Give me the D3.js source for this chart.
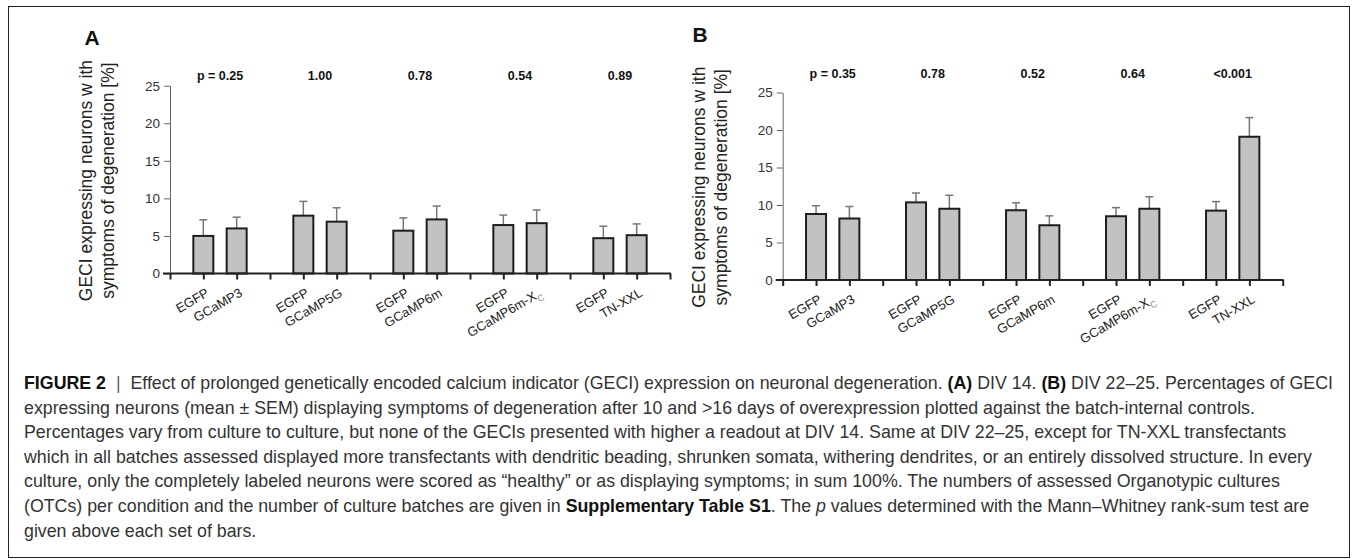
<!DOCTYPE html>
<html>
<head>
<meta charset="utf-8">
<script src="https://cdn.jsdelivr.net/npm/d3@7"></script>
<style>
  body { margin: 0; background: #fff; }
  svg { display: block; font-family: "Liberation Sans", Arial, Helvetica, sans-serif; }
</style>
</head>
<body>
<svg id="fig" width="1354" height="559"></svg>
<script>
// each pair = batch control (EGFP) + one GECI
const control = "EGFP";
const geci = ["GCaMP3", "GCaMP5G", "GCaMP6m", "GCaMP6m-X", "TN-XXL"];
const yTicks = [0, 5, 10, 15, 20, 25];

// A: DIV 14
const meanA_egfp = [5.0, 7.7, 5.7, 6.45, 4.7];
const semA_egfp = [2.15, 1.9, 1.7, 1.33, 1.6];
const meanA_geci = [6.0, 6.9, 7.2, 6.7, 5.1];
const semA_geci = [1.5, 1.85, 1.78, 1.75, 1.5];
const pA = ["p = 0.25", "1.00", "0.78", "0.54", "0.89"];

// B: DIV 22-25
const meanB_egfp = [8.8, 10.35, 9.3, 8.5, 9.25];
const semB_egfp = [1.1, 1.25, 1.0, 1.15, 1.2];
const meanB_geci = [8.2, 9.5, 7.3, 9.5, 19.1];
const semB_geci = [1.6, 1.8, 1.25, 1.6, 2.55];
const pB = ["p = 0.35", "0.78", "0.52", "0.64", "<0.001"];

const svg = d3.select("#fig");

// outer frame
svg.append("rect")
  .attr("x", 8.5).attr("y", 6.5)
  .attr("width", 1341).attr("height", 551)
  .attr("fill", "none").attr("stroke", "#222").attr("stroke-width", 1);

function panel(opt) {
  const g = svg.append("g");

  // 3 slots per pair: EGFP, GECI, gap
  const x = d3.scaleLinear().domain([0, geci.length * 3]).range([opt.left, opt.left + 500]);
  const y = d3.scaleLinear().domain([0, 25]).range([opt.bottom, opt.top]);
  const slot = x(1) - x(0);
  const bw = slot * 0.6;

  // build bar list from the arrays
  const bars = [];
  geci.forEach((name, i) => {
    bars.push({ pos: 3 * i + 1, label: control, mean: opt.egfp[i], sem: opt.egfpSem[i] });
    bars.push({ pos: 3 * i + 2, label: name, mean: opt.geci[i], sem: opt.geciSem[i] });
  });

  // y axis
  const yAxis = g.append("g")
    .attr("transform", `translate(${opt.left},0)`)
    .call(d3.axisLeft(y).tickValues(yTicks).tickSize(6).tickPadding(4).tickSizeOuter(0));
  yAxis.select(".domain").attr("stroke", "#666");
  yAxis.selectAll(".tick line").attr("stroke", "#666");
  yAxis.selectAll(".tick text").attr("font-size", 13.5).attr("fill", "#333")
    .attr("font-family", "Liberation Sans, Arial, sans-serif");

  // error bars (upper half only)
  const err = g.selectAll(".err").data(bars).enter().append("g").attr("class", "err");
  err.append("line")
    .attr("x1", d => x(d.pos)).attr("x2", d => x(d.pos))
    .attr("y1", d => y(d.mean)).attr("y2", d => y(d.mean + d.sem))
    .attr("stroke", "#777").attr("stroke-width", 1.5);
  err.append("line")
    .attr("x1", d => x(d.pos) - 4).attr("x2", d => x(d.pos) + 4)
    .attr("y1", d => y(d.mean + d.sem)).attr("y2", d => y(d.mean + d.sem))
    .attr("stroke", "#777").attr("stroke-width", 1.5);

  // bars
  g.selectAll(".bar").data(bars).enter().append("rect")
    .attr("class", "bar")
    .attr("x", d => x(d.pos) - bw / 2)
    .attr("y", d => y(d.mean))
    .attr("width", bw)
    .attr("height", d => y(0) - y(d.mean))
    .attr("fill", "#c2c2c2")
    .attr("stroke", "#1e1e1e")
    .attr("stroke-width", 2);

  // x axis, ticks at every slot
  const xAxis = g.append("g")
    .attr("transform", `translate(0,${opt.bottom})`)
    .call(d3.axisBottom(x).tickValues(d3.range(0, geci.length * 3 + 1)).tickSize(6).tickFormat("").tickSizeOuter(0));
  xAxis.select(".domain").remove();
  xAxis.selectAll(".tick line").attr("stroke", "#222").attr("stroke-width", 2);
  g.append("line")
    .attr("x1", x(0) - 7).attr("x2", x(geci.length * 3) + 1)
    .attr("y1", opt.bottom).attr("y2", opt.bottom)
    .attr("stroke", "#222").attr("stroke-width", 2);

  // rotated category labels
  const lab = g.selectAll(".xlab").data(bars).enter().append("text")
    .attr("class", "xlab")
    .attr("transform", d => `translate(${x(d.pos) + 6.5},${opt.bottom + 22}) rotate(-30)`)
    .attr("text-anchor", "end")
    .attr("font-size", 13)
    .attr("fill", "#222")
    .text(d => d.label);
  lab.filter(d => d.label === "GCaMP6m-X").append("tspan")
    .attr("dy", 4).attr("font-size", 9).attr("fill", "#888").text("C");

  // p values above each pair
  g.selectAll(".pval").data(opt.p).enter().append("text")
    .attr("x", (d, i) => x(3 * i + 1.5))
    .attr("y", opt.pY)
    .attr("text-anchor", "middle")
    .attr("font-size", 12.5)
    .attr("font-weight", "bold")
    .attr("fill", "#111")
    .text(d => d);

  // panel letter
  g.append("text")
    .attr("x", opt.letterX).attr("y", opt.letterY)
    .attr("text-anchor", "middle")
    .attr("font-size", 21).attr("font-weight", "bold").attr("fill", "#111")
    .text(opt.letter);

  // y title, two lines
  const cy = (opt.top + opt.bottom) / 2 + 1;
  const yl = g.append("text")
    .attr("transform", `translate(${opt.left - 78},${cy}) rotate(-90)`)
    .attr("text-anchor", "middle")
    .attr("font-size", 17.5)
    .attr("fill", "#222");
  yl.append("tspan").attr("x", 0).attr("y", 0).text("GECI expressing neurons w ith");
  yl.append("tspan").attr("x", 0).attr("y", 22).text("symptoms of degeneration [%]");
}

panel({
  letter: "A", letterX: 92, letterY: 45,
  left: 170, top: 85.7, bottom: 273.5, pY: 80,
  egfp: meanA_egfp, egfpSem: semA_egfp, geci: meanA_geci, geciSem: semA_geci, p: pA
});
panel({
  letter: "B", letterX: 700, letterY: 42,
  left: 782.7, top: 92.5, bottom: 280, pY: 78,
  egfp: meanB_egfp, egfpSem: semB_egfp, geci: meanB_geci, geciSem: semB_geci, p: pB
});

// caption: segments [text, style]
const caption = [
  [["FIGURE 2", "b"], ["  |  ", "bar"], ["Effect of prolonged genetically encoded calcium indicator (GECI) expression on neuronal degeneration. ", ""], ["(A)", "b"], [" DIV 14. ", ""], ["(B)", "b"], [" DIV 22–25. Percentages of GECI", ""]],
  [["expressing neurons (mean ± SEM) displaying symptoms of degeneration after 10 and >16 days of overexpression plotted against the batch-internal controls.", ""]],
  [["Percentages vary from culture to culture, but none of the GECIs presented with higher a readout at DIV 14. Same at DIV 22–25, except for TN-XXL transfectants", ""]],
  [["which in all batches assessed displayed more transfectants with dendritic beading, shrunken somata, withering dendrites, or an entirely dissolved structure. In every", ""]],
  [["culture, only the completely labeled neurons were scored as “healthy” or as displaying symptoms; in sum 100%. The numbers of assessed Organotypic cultures", ""]],
  [["(OTCs) per condition and the number of culture batches are given in ", ""], ["Supplementary Table S1", "b"], [". The ", ""], ["p", "i"], [" values determined with the Mann–Whitney rank-sum test are", ""]],
  [["given above each set of bars.", ""]]
];

const cap = svg.append("g").attr("fill", "#333");
const capLines = cap.selectAll("text").data(caption).enter().append("text")
  .attr("x", 24)
  .attr("y", (d, i) => 389 + i * 24.6)
  .attr("font-size", 15)
  .attr("xml:space", "preserve");
capLines.selectAll("tspan").data(d => d).enter().append("tspan")
  .attr("font-weight", d => d[1] === "b" ? "bold" : null)
  .attr("font-style", d => d[1] === "i" ? "italic" : null)
  .attr("fill", d => d[1] === "b" ? "#111" : d[1] === "bar" ? "#666" : null)
  .text(d => d[0]);

// fit the caption so the first line runs to the right edge like the figure
const w0 = capLines.nodes()[0].getComputedTextLength();
const fs = 15 * 1310 / w0;
capLines.attr("font-size", fs);
</script>
</body>
</html>
